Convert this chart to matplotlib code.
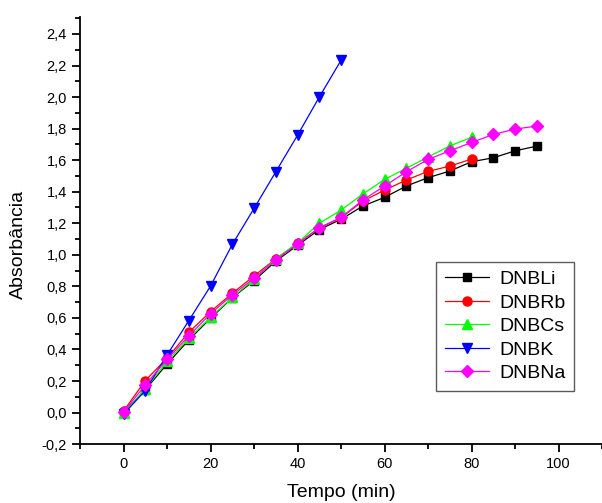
import matplotlib
matplotlib.use("Agg")
import matplotlib.pyplot as plt
from matplotlib.ticker import MultipleLocator, FuncFormatter

plt.rcParams['font.family'] = ['Liberation Sans', 'DejaVu Sans']

t_long = [0, 5, 10, 15, 20, 25, 30, 35, 40, 45, 50, 55, 60, 65, 70, 75, 80, 85, 90, 95]
t_mid = [0, 5, 10, 15, 20, 25, 30, 35, 40, 45, 50, 55, 60, 65, 70, 75, 80]
t_short = [0, 5, 10, 15, 20, 25, 30, 35, 40, 45, 50]

dnbli = [0.0, 0.145, 0.308, 0.46, 0.598, 0.728, 0.836, 0.96, 1.06, 1.16, 1.225,
         1.309, 1.364, 1.436, 1.489, 1.531, 1.59, 1.615, 1.659, 1.689]
dnbrb = [0.01, 0.203, 0.345, 0.509, 0.64, 0.756, 0.866, 0.975, 1.072, 1.17, 1.235,
         1.34, 1.41, 1.474, 1.529, 1.562, 1.607]
dnbcs = [-0.005, 0.15, 0.325, 0.47, 0.605, 0.73, 0.845, 0.975, 1.075, 1.2, 1.283,
         1.385, 1.478, 1.548, 1.62, 1.69, 1.745]
dnbk = [-0.01, 0.14, 0.365, 0.583, 0.802, 1.066, 1.294, 1.526, 1.758, 2.0, 2.233]
dnbna = [0.005, 0.175, 0.338, 0.486, 0.626, 0.746, 0.851, 0.967, 1.068, 1.172, 1.237,
         1.347, 1.436, 1.526, 1.605, 1.659, 1.712, 1.763, 1.797, 1.816]

fig = plt.figure(figsize=(6.02, 5.03), dpi=100)
ax = fig.add_axes([0.133, 0.117, 0.867, 0.85])

ax.plot(t_long, dnbli, color='black', lw=0.9, marker='s', ms=5.5, label='DNBLi')
ax.plot(t_mid, dnbrb, color='#ff0000', lw=0.9, marker='o', ms=6.5, label='DNBRb')
ax.plot(t_mid, dnbcs, color='#00ff00', lw=0.9, marker='^', ms=6.5, label='DNBCs')
ax.plot(t_short, dnbk, color='#0000ff', lw=0.9, marker='v', ms=7, label='DNBK')
ax.plot(t_long, dnbna, color='#ff00ff', lw=0.9, marker='D', ms=6, label='DNBNa')

ax.set_xlim(-10, 110)
ax.set_ylim(-0.2, 2.51)
ax.xaxis.set_major_locator(MultipleLocator(20))
ax.xaxis.set_minor_locator(MultipleLocator(10))
ax.yaxis.set_major_locator(MultipleLocator(0.2))
ax.yaxis.set_minor_locator(MultipleLocator(0.1))
ax.yaxis.set_major_formatter(FuncFormatter(lambda v, p: f"{v:.1f}".replace('.', ',').replace('-0,0', '0,0')))

for s in ['top', 'right']:
    ax.spines[s].set_visible(False)
for s in ['left', 'bottom']:
    ax.spines[s].set_linewidth(1.3)

ax.tick_params(which='major', direction='out', length=6, width=1.3, labelsize=10.5)
ax.tick_params(which='minor', direction='out', length=3.5, width=1.3)

ax.set_xlabel('Tempo (min)', fontsize=14, labelpad=9)
ax.set_ylabel('Absorbância', fontsize=14, labelpad=6)
ax.yaxis.set_label_coords(-0.102, 0.466)

leg = ax.legend(loc='lower left', bbox_to_anchor=(0.682, 0.125), borderaxespad=0,
                fontsize=14, handlelength=2.3, labelspacing=0.3, handletextpad=0.5,
                fancybox=False, edgecolor='#333333', borderpad=0.45)
leg.get_frame().set_linewidth(1.0)

fig.savefig('out.png', dpi=100)
